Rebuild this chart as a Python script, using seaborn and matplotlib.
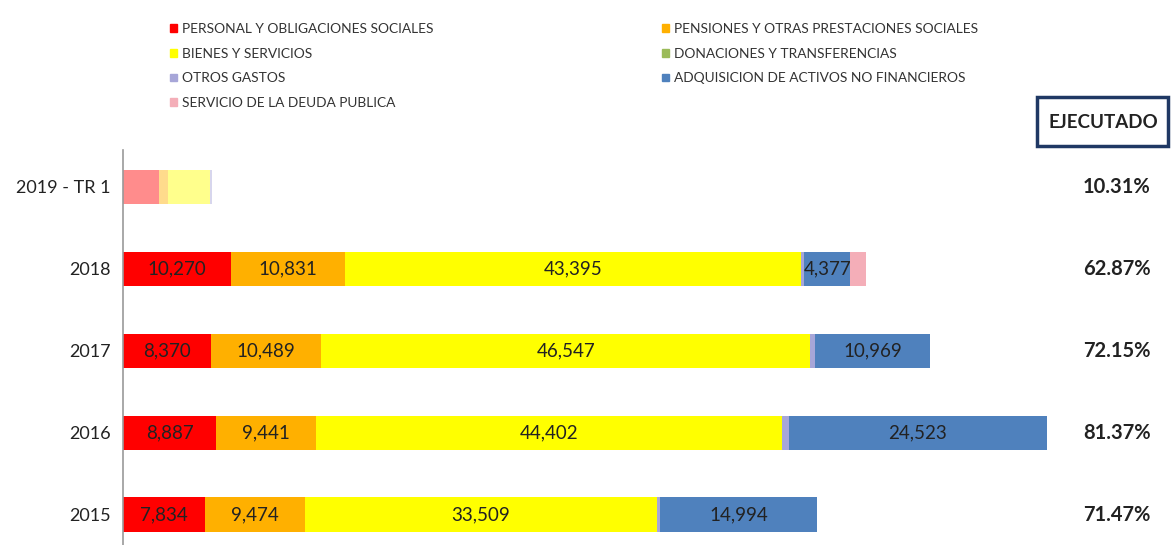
import pandas as pd
import matplotlib.pyplot as plt
import matplotlib.transforms as mtransforms
from matplotlib.patches import Rectangle
import seaborn as sns

# data (millions)
years = ["2019 - TR 1", "2018", "2017", "2016", "2015"]
personal = [3400, 10270, 8370, 8887, 7834]
pensiones = [900, 10831, 10489, 9441, 9474]
bienes = [4000, 43395, 46547, 44402, 33509]
donaciones = [0, 0, 0, 0, 0]
otros = [200, 350, 450, 650, 280]
adquisicion = [0, 4377, 10969, 24523, 14994]
deuda = [0, 1500, 0, 0, 0]
ejecutado = ["10.31%", "62.87%", "72.15%", "81.37%", "71.47%"]

series = [
    ("PERSONAL Y OBLIGACIONES SOCIALES", personal, "#FF0000", True),
    ("PENSIONES Y OTRAS PRESTACIONES SOCIALES", pensiones, "#FFB000", True),
    ("BIENES Y SERVICIOS", bienes, "#FFFF00", True),
    ("DONACIONES Y TRANSFERENCIAS", donaciones, "#9BBB59", False),
    ("OTROS GASTOS", otros, "#A7A6D8", False),
    ("ADQUISICION DE ACTIVOS NO FINANCIEROS", adquisicion, "#4F81BD", True),
    ("SERVICIO DE LA DEUDA PUBLICA", deuda, "#F4AEB8", False),
]

sns.set_style("white")
plt.rcParams['font.family'] = ['Lato', 'DejaVu Sans']

W, H = 1171, 545
fig = plt.figure(figsize=(W / 100, H / 100), dpi=100)
x0, x1 = 123, 1048
ax = fig.add_axes([x0 / W, 0, (x1 - x0) / W, 395 / H])

left = [0] * len(years)
handles = {}
for name, vals, color, show in series:
    df = pd.DataFrame({"year": years, "value": vals})
    before = len(ax.patches)
    sns.barplot(data=df, x="value", y="year", order=years, orient="h",
                color=color, saturation=1, width=0.42, left=left,
                errorbar=None, label=name, ax=ax, linewidth=0)
    bars = ax.patches[before:]
    handles[name] = Rectangle((0, 0), 1, 1, color=color)
    for i, bar in enumerate(bars):
        if i == 0:
            bar.set_alpha(0.45)
        if show and i > 0 and vals[i] > 0:
            ax.text(bar.get_x() + bar.get_width() / 2,
                    bar.get_y() + bar.get_height() / 2,
                    f"{vals[i]:,}", ha="center", va="center",
                    fontsize=13.5, color="#222222")
    left = [l + v for l, v in zip(left, vals)]

ax.set_xlim(0, (x1 - x0) / 0.010507)
ax.set_ylim(4.37, -0.45)
ax.set_xlabel("")
ax.set_ylabel("")
ax.set_xticks([])
ax.tick_params(axis="y", length=0, labelsize=13, pad=9, colors="#222222")
for s in ["top", "right", "bottom"]:
    ax.spines[s].set_visible(False)
ax.spines["left"].set_color("#999999")
ax.spines["left"].set_linewidth(1.2)
if ax.get_legend():
    ax.get_legend().remove()

# ejecutado column
tr = mtransforms.blended_transform_factory(fig.transFigure, ax.transData)
for i, p in enumerate(ejecutado):
    ax.text(1117 / W, i, p, transform=tr, ha="center", va="center",
            fontsize=14.5, fontweight="bold", color="#222222", clip_on=False)
fig.patches.append(Rectangle((1037 / W, 1 - 146 / H), 131 / W, 49 / H,
                             transform=fig.transFigure, fill=False,
                             edgecolor="#1F3864", linewidth=2.5))
fig.text(1103 / W, 1 - 122 / H, "EJECUTADO", ha="center", va="center",
         fontsize=13.5, fontweight="bold", color="#222222")

# legend in two columns
col1 = [series[0][0], series[2][0], series[4][0], series[6][0]]
col2 = [series[1][0], series[3][0], series[5][0]]
for names, xa in [(col1, 170), (col2, 662)]:
    lg = fig.legend([handles[n] for n in names], names, loc="upper left",
                    bbox_to_anchor=(xa / W, 1 - 23 / H), frameon=False,
                    fontsize=9.9, handlelength=0.5, handleheight=0.5,
                    handletextpad=0.35, labelspacing=0.92, borderpad=0,
                    borderaxespad=0)
    for t in lg.get_texts():
        t.set_color("#333333")

fig.savefig("out.png", dpi=100)
